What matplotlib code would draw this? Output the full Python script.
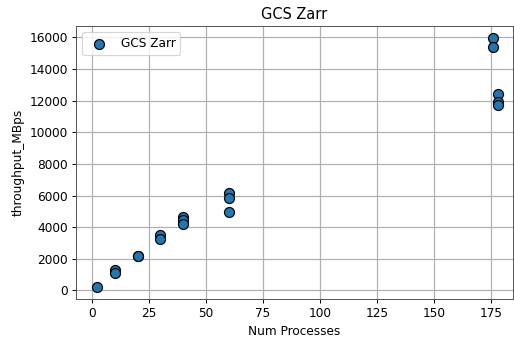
import matplotlib
matplotlib.use("Agg")
import matplotlib.pyplot as plt

# readings from the reference plot
num_processes = [2, 10, 10, 20, 20, 30, 30, 40, 40, 40, 60, 60, 60,
                 176, 176, 178, 178, 178]
throughput_mbps = [250, 1270, 1100, 2200, 2150, 3490, 3280, 4650, 4440, 4230,
                   6180, 5860, 4950, 15940, 15370, 12450, 11900, 11750]

DPI = 87
fig, ax = plt.subplots(figsize=(514 / DPI, 337 / DPI), dpi=DPI)
fig.subplots_adjust(left=0.148, right=0.998, top=0.923, bottom=0.113)

ax.scatter(num_processes, throughput_mbps, s=68, c="#1f77b4",
           edgecolors="black", linewidths=1, label="GCS Zarr", zorder=3)
ax.set_xlim(-7, 184.6)
ax.set_title("GCS Zarr")
ax.set_xlabel("Num Processes")
ax.set_ylabel("throughput_MBps")
ax.grid(True, color="#b0b0b0", linewidth=1)
ax.set_axisbelow(True)
for sp in ax.spines.values():
    sp.set_color("#555555")
ax.legend(loc="upper left")

fig.savefig("out.png", dpi=DPI)
